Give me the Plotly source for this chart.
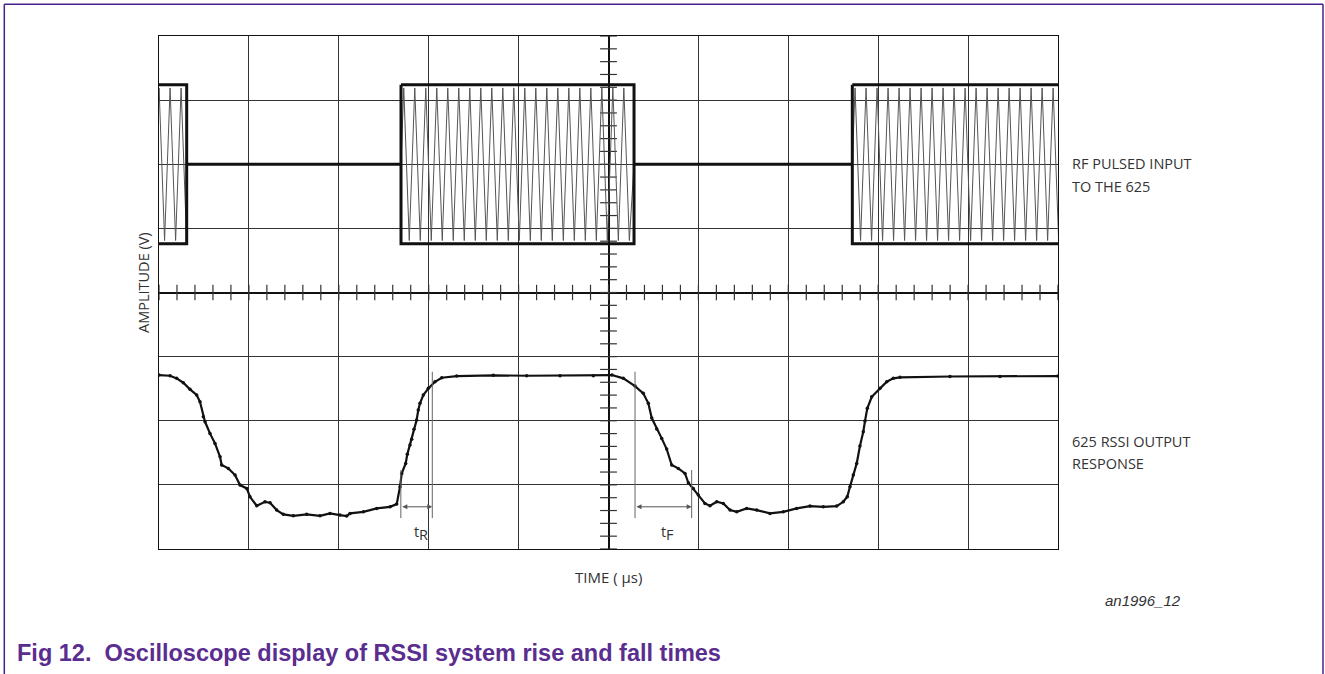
import numpy as np
import plotly.graph_objects as go

# ---------------- data (oscilloscope divisions; x: -5..5, y: -4..4) ----------------
# RSSI output trace
rssi_t = [-5.0, -4.877, -4.803, -4.730, -4.655, -4.581, -4.544, -4.507, -4.488, -4.433,
          -4.377, -4.321, -4.303, -4.229, -4.154, -4.099, -4.024, -3.988, -3.913, -3.821,
          -3.765, -3.691, -3.617, -3.506, -3.357, -3.209, -3.098, -2.987, -2.912, -2.875,
          -2.727, -2.578, -2.430, -2.356, -2.319, -2.300, -2.256, -2.238, -2.208, -2.189,
          -2.164, -2.134, -2.116, -2.097, -2.060, -2.004, -1.930, -1.855, -1.689, -1.281,
          -0.910, -0.539, -0.169, 0.039, 0.165, 0.295, 0.387, 0.443, 0.481, 0.536,
          0.592, 0.647, 0.703, 0.776, 0.851, 0.888, 0.943, 0.999, 1.073, 1.129,
          1.204, 1.277, 1.352, 1.426, 1.537, 1.649, 1.796, 1.944, 2.093, 2.241,
          2.389, 2.538, 2.612, 2.656, 2.686, 2.723, 2.761, 2.797, 2.834, 2.853,
          2.879, 2.928, 3.020, 3.095, 3.168, 3.243, 3.799, 4.355, 5.0]
rssi_v = [-1.287, -1.298, -1.339, -1.407, -1.510, -1.599, -1.704, -1.938, -2.016, -2.197,
          -2.353, -2.562, -2.691, -2.743, -2.847, -3.003, -3.055, -3.186, -3.326, -3.264,
          -3.279, -3.393, -3.460, -3.482, -3.460, -3.482, -3.445, -3.471, -3.487, -3.445,
          -3.420, -3.367, -3.342, -3.300, -3.030, -2.821, -2.665, -2.524, -2.379, -2.290,
          -2.134, -1.989, -1.833, -1.729, -1.599, -1.495, -1.392, -1.329, -1.303, -1.292,
          -1.298, -1.298, -1.298, -1.287, -1.339, -1.459, -1.573, -1.729, -1.958, -2.129,
          -2.275, -2.441, -2.691, -2.743, -2.821, -2.967, -3.055, -3.159, -3.289, -3.326,
          -3.264, -3.289, -3.393, -3.420, -3.367, -3.393, -3.445, -3.420, -3.367, -3.331,
          -3.342, -3.331, -3.264, -3.186, -3.030, -2.847, -2.665, -2.395, -2.172, -2.005,
          -1.807, -1.626, -1.495, -1.392, -1.339, -1.323, -1.310, -1.310, -1.303]

# RF pulsed input: burst edges, carrier period, levels
burst_start = [-7.60, -2.308, 2.712]
burst_end = [-4.692, 0.284, 5.40]
carrier_period = 0.1224
rf_center = 2.0
envelope_half = 1.24
carrier_amp = 1.19

# ---------------- figure ----------------
W, H = 1325, 674
L, R, T, B = 159, 1058, 36, 549   # plot area in px


def px(xp):
    return (xp - L) / (R - L)


def py(yp):
    return (B - yp) / (B - T)


fig = go.Figure()

# central graticule minor ticks
tick_x = np.round(np.arange(-5, 5.001, 0.2), 3)
tick_y = np.round(np.arange(-4, 4.001, 0.2), 3)
fig.add_trace(go.Scatter(x=tick_x, y=[0] * len(tick_x), mode="markers",
                         marker=dict(symbol="line-ns", size=11, line=dict(color="#333", width=1.2)),
                         hoverinfo="skip", showlegend=False))
fig.add_trace(go.Scatter(x=[0] * len(tick_y), y=tick_y, mode="markers",
                         marker=dict(symbol="line-ew", size=12, line=dict(color="#333", width=1.2)),
                         hoverinfo="skip", showlegend=False))

# carrier zigzag inside each burst
cx, cy = [], []
for s, e in zip(burst_start, burst_end):
    xs = [s]
    ys = [rf_center]
    k = 0
    t = s + carrier_period / 4
    while t < e:
        xs.append(t)
        ys.append(rf_center + (carrier_amp if k % 2 == 0 else -carrier_amp))
        k += 1
        t += carrier_period / 2
    xs.append(e)
    ys.append(rf_center)
    cx += xs + [None]
    cy += ys + [None]
fig.add_trace(go.Scatter(x=cx, y=cy, mode="lines", line=dict(color="#555", width=1),
                         hoverinfo="skip", showlegend=False))

# envelope boxes and baseline
ex, ey = [], []
top, bot = rf_center + envelope_half, rf_center - envelope_half
for i, (s, e) in enumerate(zip(burst_start, burst_end)):
    ex += [s, e, e, s, s, None]
    ey += [top, top, bot, bot, top, None]
    if i + 1 < len(burst_start):
        ex += [e, burst_start[i + 1], None]
        ey += [rf_center, rf_center, None]
fig.add_trace(go.Scatter(x=ex, y=ey, mode="lines", line=dict(color="#111", width=3),
                         hoverinfo="skip", showlegend=False))

# RSSI trace
fig.add_trace(go.Scatter(x=rssi_t, y=rssi_v, mode="lines+markers",
                         line=dict(color="#111", width=2.2),
                         marker=dict(color="#111", size=3.5),
                         hoverinfo="skip", showlegend=False))

shapes = []
# rise / fall time markers
for x0, y0, y1 in [(-2.310, -2.769, -3.518), (-1.960, -1.236, -3.518),
                   (0.295, -1.236, -3.518), (0.925, -2.769, -3.518)]:
    shapes.append(dict(type="line", xref="x", yref="y", x0=x0, x1=x0, y0=y0, y1=y1,
                       line=dict(color="#666", width=1)))

# purple frame
fc = "#4b1f8a"
shapes.append(dict(type="line", xref="paper", yref="paper", x0=px(4.3), x1=px(4.3),
                   y0=py(4.3), y1=py(690), line=dict(color=fc, width=1.5)))
shapes.append(dict(type="line", xref="paper", yref="paper", x0=px(4.3), x1=px(1323),
                   y0=py(4.3), y1=py(4.3), line=dict(color=fc, width=1.5)))
shapes.append(dict(type="line", xref="paper", yref="paper", x0=px(1323), x1=px(1323),
                   y0=py(4.3), y1=py(690), line=dict(color=fc, width=1.5)))

font_lbl = dict(family="Open Sans", size=14.5, color="#333")
ann = []
for txt, yp in [("RF PULSED INPUT", 163), ("TO THE 625", 186),
                ("625 RSSI OUTPUT", 441), ("RESPONSE", 463)]:
    ann.append(dict(text=txt, xref="paper", yref="paper", x=px(1070), y=py(yp),
                    xanchor="left", yanchor="middle", showarrow=False, font=font_lbl))
ann.append(dict(text="AMPLITUDE (V)", xref="paper", yref="paper", x=px(143), y=py(283),
                xanchor="center", yanchor="middle", textangle=-90, showarrow=False, font=font_lbl))
ann.append(dict(text="TIME ( μs)", xref="paper", yref="paper", x=px(608), y=py(577),
                xanchor="center", yanchor="middle", showarrow=False,
                font=dict(family="Open Sans", size=15, color="#333")))
ann.append(dict(text="<i>an1996_12</i>", xref="paper", yref="paper", x=px(1103), y=py(600),
                xanchor="left", yanchor="middle", showarrow=False,
                font=dict(family="Liberation Sans, Arial", size=15, color="#333")))
ann.append(dict(text="<b>Fig 12.  Oscilloscope display of RSSI system rise and fall times</b>",
                xref="paper", yref="paper", x=px(15), y=py(653),
                xanchor="left", yanchor="middle", showarrow=False,
                font=dict(family="Liberation Sans, Arial", size=23.5, color="#5a2d8f")))
# t_R / t_F labels
for xt, sub in [(-2.185, "R"), (0.56, "F")]:
    ann.append(dict(text="t", xref="x", yref="y", x=xt, y=-3.72,
                    xanchor="left", yanchor="middle", showarrow=False, font=font_lbl))
    ann.append(dict(text=sub, xref="x", yref="y", x=xt + 0.058, y=-3.78,
                    xanchor="left", yanchor="middle", showarrow=False, font=font_lbl))
# double-headed arrows
for xa, xb in [(-2.310, -1.960), (0.295, 0.925)]:
    ann.append(dict(x=xb, y=-3.342, ax=xa, ay=-3.342, xref="x", yref="y", axref="x", ayref="y",
                    text="", showarrow=True, arrowhead=2, arrowside="end+start",
                    arrowsize=1, arrowwidth=1, arrowcolor="#555"))

axis_common = dict(showgrid=True, gridcolor="#333", gridwidth=1.2, dtick=1,
                   showticklabels=False, ticks="", zeroline=True, zerolinecolor="#111",
                   zerolinewidth=2, showline=True, linecolor="#111", linewidth=1.3,
                   mirror=True, fixedrange=True)
fig.update_layout(
    width=W, height=H,
    margin=dict(l=L, r=W - R, t=T, b=H - B),
    paper_bgcolor="white", plot_bgcolor="white",
    xaxis=dict(range=[-5, 5], tick0=0, **axis_common),
    yaxis=dict(range=[-4, 4], tick0=0, **axis_common),
    shapes=shapes, annotations=ann, showlegend=False,
)
fig.write_html("out.html")
